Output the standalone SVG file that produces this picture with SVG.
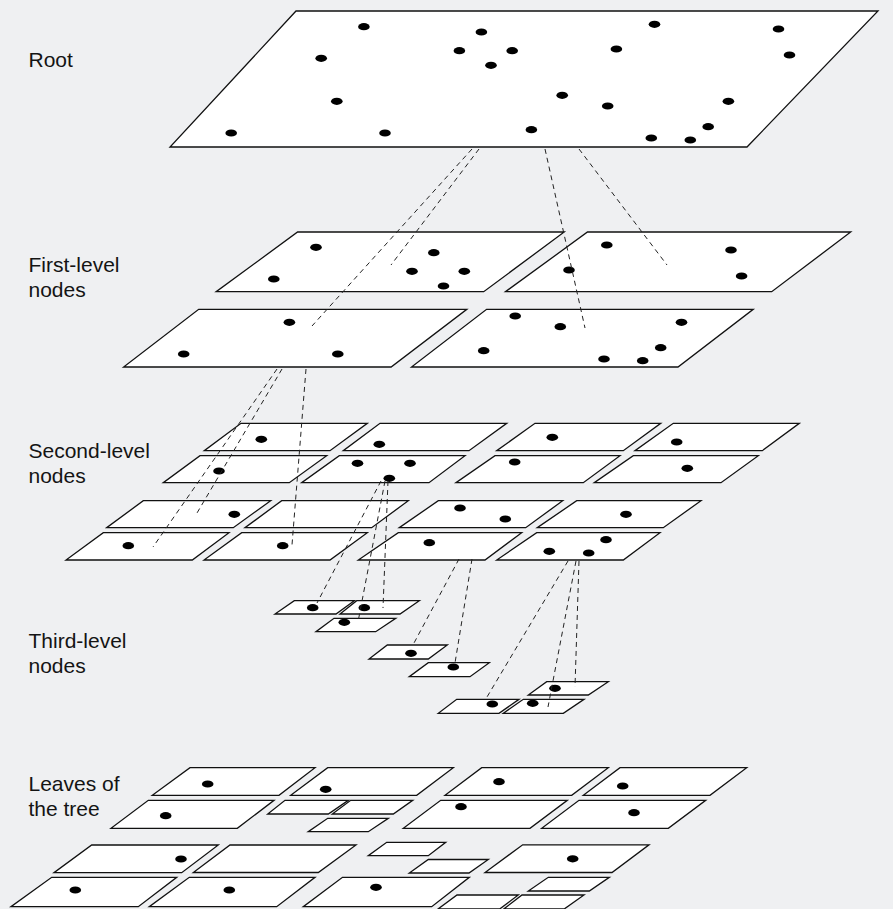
<svg xmlns="http://www.w3.org/2000/svg" xmlns:xlink="http://www.w3.org/1999/xlink" width="893" height="909" viewBox="0 0 893 909">
  <style>
    .bg { fill: #eff0f2; }
    .node polygon { fill: #ffffff; stroke: #111111; stroke-width: 1.3; stroke-linejoin: miter; }
    .node use { fill: #000000; }
    .link { fill: none; stroke: #222222; stroke-width: 1; stroke-dasharray: 5 4; }
    .label { font-family: "Liberation Sans", Arial, Helvetica, sans-serif; font-size: 21px; fill: #141414; }
  </style>
  <defs>
    <ellipse id="dot" cx="0" cy="0" rx="5.8" ry="3.6"/>
  </defs>

  <rect class="bg" x="0" y="0" width="893" height="909"/>

  <!-- level labels -->
  <g id="labels">
    <text class="label" x="28.5" y="66.7">Root</text>
    <text class="label" x="28.5" y="271.7">First-level</text>
    <text class="label" x="28.5" y="296.7">nodes</text>
    <text class="label" x="28.5" y="458.3">Second-level</text>
    <text class="label" x="28.5" y="483.3">nodes</text>
    <text class="label" x="28.5" y="647.7">Third-level</text>
    <text class="label" x="28.5" y="672.7">nodes</text>
    <text class="label" x="28.5" y="790.7">Leaves of</text>
    <text class="label" x="28.5" y="815.7">the tree</text>
  </g>

  <!-- root -->
  <g id="root" class="node">
    <polygon points="296,11 878,11 747,147 170,147"/>
    <use href="#dot" x="363.9" y="26.7"/>
    <use href="#dot" x="481.4" y="32"/>
    <use href="#dot" x="459.4" y="50.7"/>
    <use href="#dot" x="512.2" y="50.7"/>
    <use href="#dot" x="491" y="65.3"/>
    <use href="#dot" x="321.2" y="58.3"/>
    <use href="#dot" x="616.4" y="49"/>
    <use href="#dot" x="654.5" y="24.3"/>
    <use href="#dot" x="778.5" y="29"/>
    <use href="#dot" x="789.5" y="55"/>
    <use href="#dot" x="336.8" y="101.3"/>
    <use href="#dot" x="562.2" y="95.3"/>
    <use href="#dot" x="607.7" y="106"/>
    <use href="#dot" x="728.4" y="101.3"/>
    <use href="#dot" x="231.2" y="133"/>
    <use href="#dot" x="385" y="133"/>
    <use href="#dot" x="531.4" y="129.7"/>
    <use href="#dot" x="708.2" y="126.7"/>
    <use href="#dot" x="651.3" y="138"/>
    <use href="#dot" x="690.3" y="140"/>
  </g>

  <!-- first level -->
  <g id="l1-a" class="node">
    <polygon points="297.6,232 564.2,232 483.7,291.7 216.2,291.7"/>
    <use href="#dot" x="316" y="247.3"/>
    <use href="#dot" x="273.8" y="279"/>
    <use href="#dot" x="433.8" y="252.7"/>
    <use href="#dot" x="412" y="271.3"/>
    <use href="#dot" x="464.3" y="271.3"/>
    <use href="#dot" x="443.5" y="286"/>
  </g>
  <g id="l1-b" class="node">
    <polygon points="587.5,232 850.7,232 771.7,291.7 505.5,291.7"/>
    <use href="#dot" x="606.8" y="245"/>
    <use href="#dot" x="731" y="250"/>
    <use href="#dot" x="741.6" y="276"/>
    <use href="#dot" x="569" y="270"/>
  </g>
  <g id="l1-c" class="node">
    <polygon points="198.7,309.3 466.8,309.3 391.1,367 123.6,367"/>
    <use href="#dot" x="289.4" y="322.3"/>
    <use href="#dot" x="183.7" y="354"/>
    <use href="#dot" x="337.8" y="354"/>
  </g>
  <g id="l1-d" class="node">
    <polygon points="486.6,309.3 753.2,309.3 678,367 411.5,367"/>
    <use href="#dot" x="515.2" y="316"/>
    <use href="#dot" x="560.3" y="326.7"/>
    <use href="#dot" x="681.5" y="322.3"/>
    <use href="#dot" x="483.7" y="350.7"/>
    <use href="#dot" x="660.7" y="347.7"/>
    <use href="#dot" x="604" y="359"/>
    <use href="#dot" x="642.7" y="360.7"/>
  </g>

  <!-- second level -->
  <g id="l2-01" class="node">
    <polygon points="241,423.3 367.3,423.3 330,450.7 204.3,450.7"/>
    <use href="#dot" x="261.3" y="439.3"/>
  </g>
  <g id="l2-02" class="node">
    <polygon points="380,423.3 506.7,423.3 469,450.7 343.3,450.7"/>
    <use href="#dot" x="379.3" y="444.3"/>
  </g>
  <g id="l2-03" class="node">
    <polygon points="200,455.7 326.7,455.7 289.3,482.7 163.3,482.7"/>
    <use href="#dot" x="219" y="471"/>
  </g>
  <g id="l2-04" class="node">
    <polygon points="339.3,455.7 465,455.7 429,482.7 301.7,482.7"/>
    <use href="#dot" x="357.5" y="463.3"/>
    <use href="#dot" x="410" y="463.3"/>
    <use href="#dot" x="389.3" y="478.3"/>
  </g>
  <g id="l2-05" class="node">
    <polygon points="535,423.3 660.7,423.3 623.3,450.7 496.7,450.7"/>
    <use href="#dot" x="552.3" y="437.3"/>
  </g>
  <g id="l2-06" class="node">
    <polygon points="673.3,423.3 799.3,423.3 762.3,450.7 635,450.7"/>
    <use href="#dot" x="676.7" y="442"/>
  </g>
  <g id="l2-07" class="node">
    <polygon points="495,455.7 620,455.7 583.3,482.7 456,482.7"/>
    <use href="#dot" x="514.7" y="462"/>
  </g>
  <g id="l2-08" class="node">
    <polygon points="633.3,455.7 758.3,455.7 721,482.7 594.3,482.7"/>
    <use href="#dot" x="687.3" y="468.3"/>
  </g>
  <g id="l2-09" class="node">
    <polygon points="143.3,500.7 270.7,500.7 233.3,527.7 106.7,527.7"/>
    <use href="#dot" x="234.3" y="514.3"/>
  </g>
  <g id="l2-10" class="node">
    <polygon points="281.7,500.7 408.3,500.7 371.7,527.7 245,527.7"/>
  </g>
  <g id="l2-11" class="node">
    <polygon points="103.3,532.7 229,532.7 192.3,560 66,560"/>
    <use href="#dot" x="128.3" y="545.7"/>
  </g>
  <g id="l2-12" class="node">
    <polygon points="241.7,532.7 367.3,532.7 330,560 204,560"/>
    <use href="#dot" x="282.7" y="545.7"/>
  </g>
  <g id="l2-13" class="node">
    <polygon points="438.3,500.7 562.7,500.7 525.7,527.7 399.3,527.7"/>
    <use href="#dot" x="460" y="508"/>
    <use href="#dot" x="505.3" y="519"/>
  </g>
  <g id="l2-14" class="node">
    <polygon points="576.7,500.7 701,500.7 663.3,527.7 537.3,527.7"/>
    <use href="#dot" x="626" y="514.3"/>
  </g>
  <g id="l2-15" class="node">
    <polygon points="398.3,532.7 521.7,532.7 485,560 358.3,560"/>
    <use href="#dot" x="429.3" y="542.7"/>
  </g>
  <g id="l2-16" class="node">
    <polygon points="536.7,532.7 660,532.7 623.3,560 496.7,560"/>
    <use href="#dot" x="606" y="539.7"/>
    <use href="#dot" x="549.3" y="551.3"/>
    <use href="#dot" x="588.7" y="553"/>
  </g>

  <!-- third level -->
  <g id="l3-1" class="node">
    <polygon points="294.3,600.7 354.3,600.7 336,614 275,614"/>
    <use href="#dot" x="312.7" y="607.7"/>
  </g>
  <g id="l3-2" class="node">
    <polygon points="356.7,600.7 419.3,600.7 400,614 340,614"/>
    <use href="#dot" x="364.3" y="607.7"/>
  </g>
  <g id="l3-3" class="node">
    <polygon points="334,618.3 395.7,618.3 375.7,631.7 316,631.7"/>
    <use href="#dot" x="344.3" y="622.3"/>
  </g>
  <g id="l3-4" class="node">
    <polygon points="387.3,645 447.3,645 428.3,659 369,659"/>
    <use href="#dot" x="411" y="653.3"/>
  </g>
  <g id="l3-5" class="node">
    <polygon points="428.3,662.7 489.3,662.7 470,676.7 409.3,676.7"/>
    <use href="#dot" x="453.3" y="667"/>
  </g>
  <g id="l3-6" class="node">
    <polygon points="546.7,681.7 608.3,681.7 588.3,695 528.3,695"/>
    <use href="#dot" x="555" y="688.3"/>
  </g>
  <g id="l3-7" class="node">
    <polygon points="456.7,699.3 519,699.3 499,713.3 438.3,713.3"/>
    <use href="#dot" x="492.3" y="704"/>
  </g>
  <g id="l3-8" class="node">
    <polygon points="523.3,699.3 584,699.3 563.3,713.3 503.3,713.3"/>
    <use href="#dot" x="532.7" y="703.3"/>
  </g>

  <!-- leaves -->
  <g id="leaf-a1" class="node">
    <polygon points="190,767.7 315,767.7 279,795.3 152.3,795.3"/>
    <use href="#dot" x="207.7" y="784"/>
  </g>
  <g id="leaf-a2" class="node">
    <polygon points="327.7,767.7 453.3,767.7 416.7,795.3 290.7,795.3"/>
    <use href="#dot" x="325.7" y="789.3"/>
  </g>
  <g id="leaf-a3" class="node">
    <polygon points="481.7,767.7 608.3,767.7 571.7,795.3 445,795.3"/>
    <use href="#dot" x="499" y="781.7"/>
  </g>
  <g id="leaf-a4" class="node">
    <polygon points="620,767.7 746.7,767.7 710,795.3 583.3,795.3"/>
    <use href="#dot" x="622.7" y="786"/>
  </g>
  <g id="leaf-b1" class="node">
    <polygon points="148.3,800.3 274,800.3 237.3,828.3 111,828.3"/>
    <use href="#dot" x="165.7" y="815.7"/>
  </g>
  <g id="leaf-b2" class="node">
    <polygon points="285,800.3 348.3,800.3 328.3,814 267.7,814"/>
  </g>
  <g id="leaf-b3" class="node">
    <polygon points="350.7,800.3 412.7,800.3 393.3,814 332.3,814"/>
  </g>
  <g id="leaf-b4" class="node">
    <polygon points="327.7,818.3 388.3,818.3 368.3,831.7 308.3,831.7"/>
  </g>
  <g id="leaf-b5" class="node">
    <polygon points="440.7,800.3 567.3,800.3 530,828.3 403.3,828.3"/>
    <use href="#dot" x="461" y="806.7"/>
  </g>
  <g id="leaf-b6" class="node">
    <polygon points="579,800.3 705.7,800.3 668.3,828.3 541.7,828.3"/>
    <use href="#dot" x="634" y="812.7"/>
  </g>
  <g id="leaf-c1" class="node">
    <polygon points="91.7,845 218.3,845 181.7,872.7 54,872.7"/>
    <use href="#dot" x="181" y="859"/>
  </g>
  <g id="leaf-c2" class="node">
    <polygon points="230,845 356,845 318.3,872.5 193.3,872.5"/>
  </g>
  <g id="leaf-c3" class="node">
    <polygon points="386.7,842.3 445.7,842.3 428.3,855.7 368.3,855.7"/>
  </g>
  <g id="leaf-c4" class="node">
    <polygon points="428.3,859.5 488.3,859.5 469,873 409.3,873"/>
  </g>
  <g id="leaf-c5" class="node">
    <polygon points="522.7,844.8 649,844.8 612,872.5 485,872.5"/>
    <use href="#dot" x="572.7" y="858.8"/>
  </g>
  <g id="leaf-d1" class="node">
    <polygon points="51.7,877.3 176.7,877.3 138.3,906.7 11,906.7"/>
    <use href="#dot" x="75.3" y="890"/>
  </g>
  <g id="leaf-d2" class="node">
    <polygon points="189.3,877.3 315,877.3 276.7,906.7 149.3,906.7"/>
    <use href="#dot" x="229.3" y="890"/>
  </g>
  <g id="leaf-d3" class="node">
    <polygon points="342.5,877.3 469.3,877.3 431.7,906.7 303.3,906.7"/>
    <use href="#dot" x="376" y="887.3"/>
  </g>
  <g id="leaf-d4" class="node">
    <polygon points="457,895 518.3,895 500,908.8 438.3,908.8"/>
  </g>
  <g id="leaf-d5" class="node">
    <polygon points="522,895 584,895 564.5,908.8 504,908.8"/>
  </g>
  <g id="leaf-d6" class="node">
    <polygon points="548.3,877.3 609.3,877.3 589.3,891 528.3,891"/>
  </g>

  <!-- dashed parent/child links -->
  <g id="connectors">
    <line class="link" x1="472" y1="149" x2="312" y2="326"/>
    <line class="link" x1="479" y1="149" x2="391" y2="265"/>
    <line class="link" x1="545" y1="149" x2="585" y2="328"/>
    <line class="link" x1="579" y1="149" x2="667" y2="265"/>

    <line class="link" x1="277" y1="369" x2="153" y2="547"/>
    <line class="link" x1="282" y1="369" x2="197" y2="513"/>
    <line class="link" x1="306" y1="369" x2="292" y2="545"/>

    <line class="link" x1="381" y1="481" x2="317" y2="603"/>
    <line class="link" x1="385" y1="481" x2="358" y2="622"/>
    <line class="link" x1="388" y1="481" x2="383" y2="608"/>

    <line class="link" x1="459" y1="559" x2="414" y2="643"/>
    <line class="link" x1="472" y1="559" x2="455" y2="663"/>

    <line class="link" x1="568" y1="561" x2="487" y2="697"/>
    <line class="link" x1="576" y1="561" x2="548" y2="707"/>
    <line class="link" x1="579" y1="561" x2="575" y2="687"/>
  </g>
</svg>
